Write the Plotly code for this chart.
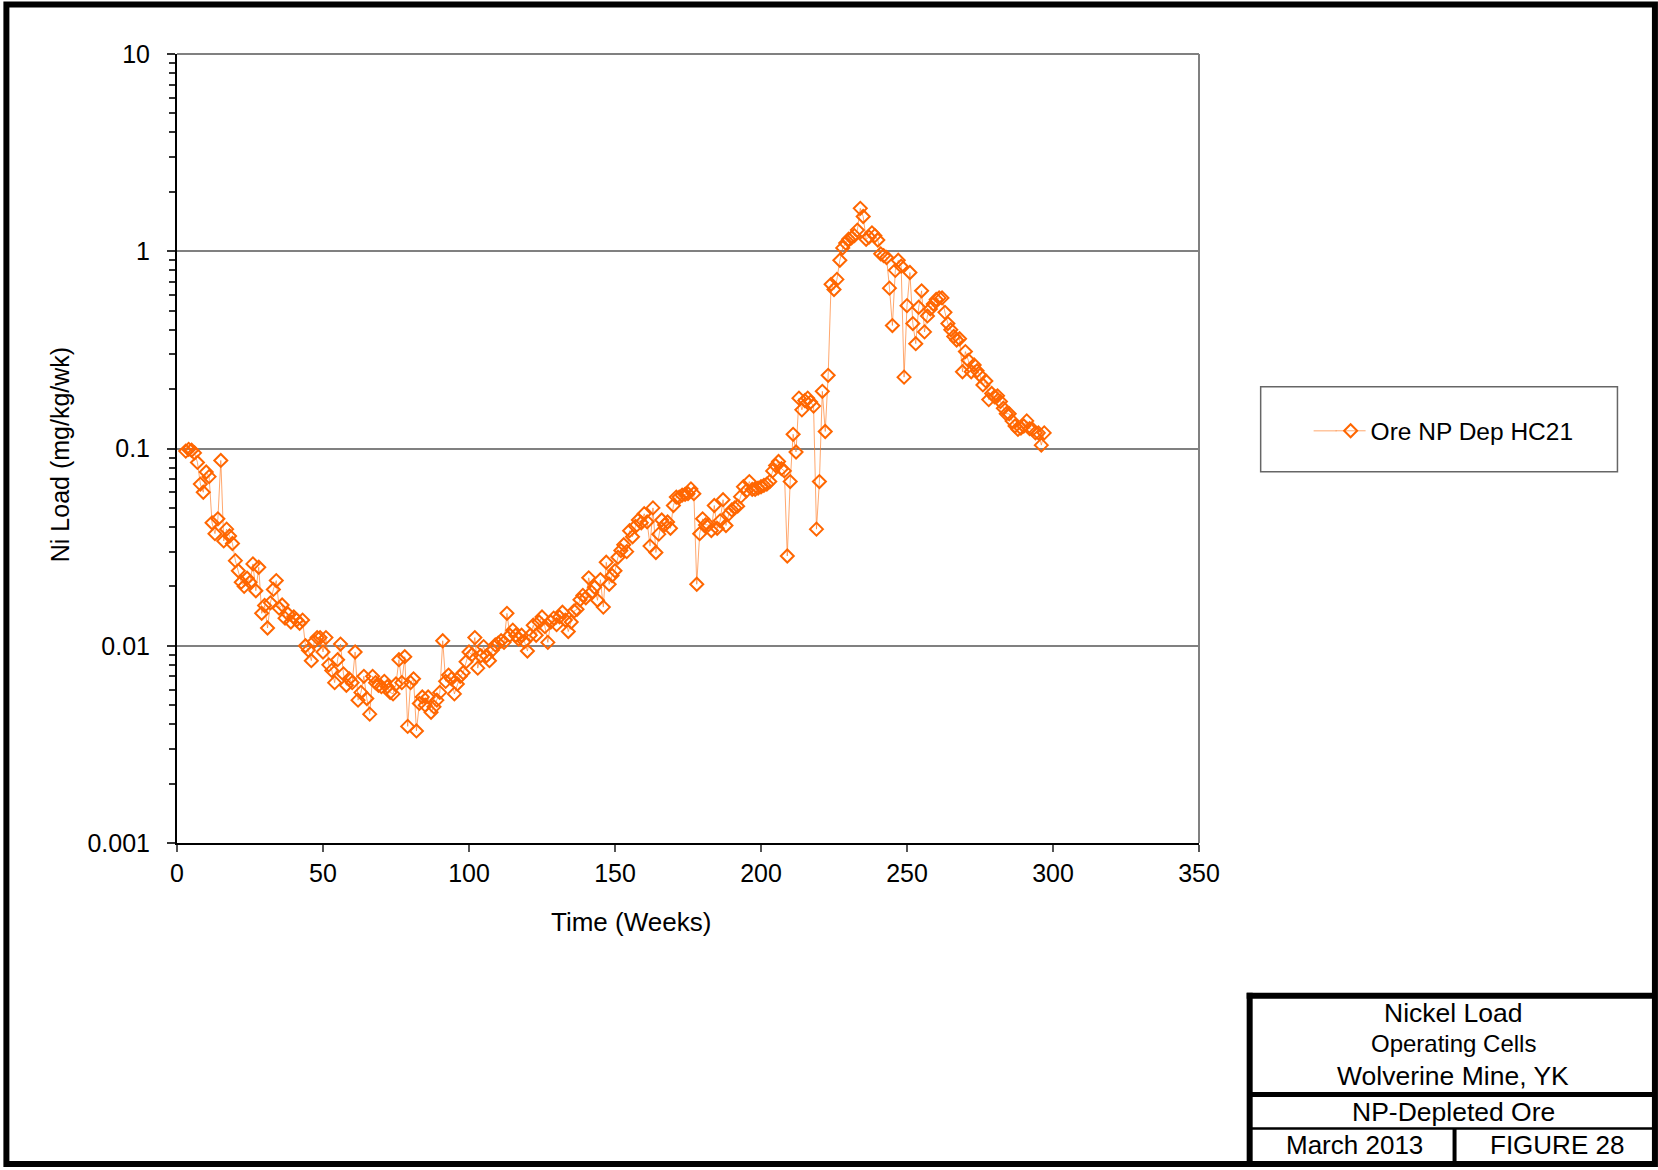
import plotly.graph_objects as go

# Weekly nickel load, NP-depleted ore humidity cell HC21 (mg/kg/wk), weeks 3..297
ni_load = [
    0.097, 0.099, 0.098, 0.095, 0.085, 0.066, 0.060, 0.076, 0.072, 0.042,
    0.037, 0.044, 0.087, 0.034, 0.039, 0.036, 0.033, 0.027, 0.024, 0.021,
    0.020, 0.022, 0.021, 0.026, 0.019, 0.025, 0.0146, 0.016, 0.0123, 0.0165,
    0.0193, 0.0214, 0.0155, 0.0161, 0.0138, 0.0145, 0.0132, 0.014, 0.0135, 0.013,
    0.0135, 0.010, 0.0095, 0.0084, 0.0105, 0.011, 0.011, 0.0093, 0.011, 0.008,
    0.0075, 0.0065, 0.0085, 0.0102, 0.0072, 0.0063, 0.0068, 0.0065, 0.0093, 0.0053,
    0.0058, 0.007, 0.0054, 0.0045, 0.007, 0.0065, 0.0063, 0.0062, 0.0066, 0.0062,
    0.0058, 0.0057, 0.0064, 0.0085, 0.0065, 0.0088, 0.0039, 0.0065, 0.0068, 0.0037,
    0.0051, 0.0055, 0.005, 0.0055, 0.0046, 0.0049, 0.0053, 0.0058, 0.0106, 0.0066,
    0.0071, 0.0068, 0.0057, 0.0064, 0.007, 0.0073, 0.0083, 0.0093, 0.009, 0.011,
    0.0077, 0.0089, 0.0099, 0.0089, 0.0084, 0.0095, 0.0101, 0.0103, 0.0106, 0.0104,
    0.0146, 0.0113, 0.012, 0.0113, 0.0108, 0.0113, 0.0105, 0.0094, 0.0113, 0.0127,
    0.0113, 0.0132, 0.014, 0.0125, 0.0104, 0.0132, 0.0138, 0.0128, 0.014, 0.0148,
    0.0135, 0.0118, 0.0132, 0.015, 0.0153, 0.0171, 0.018, 0.0175, 0.0221, 0.0187,
    0.0198, 0.017, 0.0216, 0.0157, 0.0265, 0.0205, 0.0227, 0.024, 0.0281, 0.0304,
    0.0325, 0.030, 0.0383, 0.0357, 0.0403, 0.0434, 0.042, 0.0467, 0.0425, 0.032,
    0.050, 0.0297, 0.0368, 0.0434, 0.041, 0.0424, 0.0394, 0.0514, 0.0567, 0.0567,
    0.058, 0.0585, 0.059, 0.0624, 0.059, 0.0205, 0.037, 0.044, 0.041, 0.041,
    0.0384, 0.0514, 0.0394, 0.043, 0.055, 0.0407, 0.0466, 0.0488, 0.050, 0.051,
    0.057, 0.064, 0.061, 0.068, 0.062, 0.062, 0.063, 0.064, 0.065, 0.066,
    0.068, 0.077, 0.082, 0.086, 0.079, 0.077, 0.0285, 0.068, 0.118, 0.096,
    0.18, 0.157, 0.175, 0.18, 0.172, 0.164, 0.039, 0.068, 0.195, 0.122,
    0.235, 0.68, 0.64, 0.72, 0.90, 1.04, 1.1, 1.15, 1.17, 1.2,
    1.28, 1.65, 1.5, 1.15, 1.18, 1.24, 1.2, 1.14, 0.97, 0.95,
    0.93, 0.65, 0.42, 0.8, 0.9, 0.84, 0.23, 0.53, 0.78, 0.43,
    0.34, 0.52, 0.63, 0.39, 0.47, 0.51, 0.54, 0.57, 0.58, 0.58,
    0.49, 0.43, 0.40, 0.37, 0.355, 0.36, 0.245, 0.31, 0.28, 0.245,
    0.265, 0.248, 0.235, 0.21, 0.22, 0.177, 0.19, 0.183, 0.185, 0.173,
    0.16, 0.15, 0.15, 0.138, 0.13, 0.125, 0.127, 0.13, 0.138, 0.126,
    0.125, 0.12, 0.12, 0.104, 0.12,
]
first_week = 3
weeks = list(range(first_week, first_week + len(ni_load)))

series_name = "Ore NP Dep HC21"
x_ticks = [0, 50, 100, 150, 200, 250, 300, 350]
y_tickvals = [0.001, 0.01, 0.1, 1, 10]
y_ticktext = ["0.001", "0.01", "0.1", "1", "10"]
x_title = "Time (Weeks)"
y_title = "Ni Load (mg/kg/wk)"
title_block = {
    "line1": "Nickel Load",
    "line2": "Operating Cells",
    "line3": "Wolverine Mine, YK",
    "line4": "NP-Depleted Ore",
    "date": "March 2013",
    "figure": "FIGURE 28",
}

# Page geometry (pixels)
W, H = 1658, 1170
PL, PR, PT, PB = 176.7, 1199.3, 54.0, 843.3
FONT = "Liberation Sans, Arial, Helvetica, sans-serif"
ORANGE = "#FF6600"
LINE_ORANGE = "rgba(255,120,30,0.65)"
GRID = "#808080"


def px(x):
    return (x - PL) / (PR - PL)


def py(y):
    return (PB - y) / (PB - PT)


fig = go.Figure()
fig.add_trace(go.Scatter(
    x=weeks, y=ni_load, name=series_name, mode="lines+markers",
    line=dict(color=LINE_ORANGE, width=1),
    marker=dict(symbol="diamond-open", size=10, color=ORANGE,
                line=dict(color=ORANGE, width=2)),
))

minor_vals = [m * 10 ** e for e in range(-3, 1) for m in range(2, 10)]

fig.update_xaxes(
    range=[0, 350], tickvals=x_ticks, ticks="outside", ticklen=7, tickwidth=1.5,
    tickcolor="#555555", showline=True, linecolor="black", linewidth=2,
    showgrid=False, zeroline=False,
    tickfont=dict(family=FONT, size=25, color="black"),
)
fig.update_yaxes(
    type="log", range=[-3, 1], tickvals=y_tickvals, ticktext=y_ticktext,
    ticks="outside", ticklen=8, tickwidth=1.5, tickcolor="#333333",
    ticklabelstandoff=12,
    showline=True, linecolor="black", linewidth=2,
    showgrid=True, gridcolor=GRID, gridwidth=1.5, zeroline=False,
    tickfont=dict(family=FONT, size=25, color="black"),
    minor=dict(tickvals=minor_vals, ticks="outside", ticklen=6,
               tickcolor="#333333", tickwidth=1.5, showgrid=False),
)

shapes = []
# gray top and right borders of the plot area
shapes.append(dict(type="line", xref="paper", yref="paper", x0=0, x1=1, y0=1, y1=1,
                   line=dict(color=GRID, width=2)))
shapes.append(dict(type="line", xref="paper", yref="paper", x0=1, x1=1, y0=0, y1=1,
                   line=dict(color=GRID, width=2)))
# legend box and the longer lead-in of its line sample
shapes.append(dict(type="rect", xref="paper", yref="paper",
                   x0=px(1261), x1=px(1618), y0=py(472), y1=py(387),
                   line=dict(color="#666666", width=1.5)))
shapes.append(dict(type="line", xref="paper", yref="paper",
                   x0=px(1314), x1=px(1337), y0=py(431), y1=py(431),
                   line=dict(color=LINE_ORANGE, width=1)))
# outer page frame
shapes.append(dict(type="rect", xref="paper", yref="paper",
                   x0=px(6), x1=px(1655.5), y0=py(1164.5), y1=py(4.5),
                   line=dict(color="black", width=6)))
# title block
shapes.append(dict(type="line", xref="paper", yref="paper",
                   x0=px(1250), x1=px(1250), y0=py(1165), y1=py(993),
                   line=dict(color="black", width=6)))
shapes.append(dict(type="line", xref="paper", yref="paper",
                   x0=px(1247), x1=px(1656), y0=py(996), y1=py(996),
                   line=dict(color="black", width=6)))
shapes.append(dict(type="line", xref="paper", yref="paper",
                   x0=px(1250), x1=px(1656), y0=py(1095), y1=py(1095),
                   line=dict(color="black", width=5)))
shapes.append(dict(type="line", xref="paper", yref="paper",
                   x0=px(1250), x1=px(1656), y0=py(1129), y1=py(1129),
                   line=dict(color="black", width=2.5)))
shapes.append(dict(type="line", xref="paper", yref="paper",
                   x0=px(1455), x1=px(1455), y0=py(1165), y1=py(1129),
                   line=dict(color="black", width=4)))

annotations = [
    dict(text=x_title, x=px(631), y=py(922), xref="paper", yref="paper",
         showarrow=False, xanchor="center", yanchor="middle",
         font=dict(family=FONT, size=26, color="black")),
    dict(text=y_title, x=px(59), y=py(455), xref="paper", yref="paper",
         showarrow=False, xanchor="center", yanchor="middle", textangle=-90,
         font=dict(family=FONT, size=25, color="black")),
]
tb = [
    (title_block["line1"], 1453.5, 1013, 26.5),
    (title_block["line2"], 1453.5, 1044, 24),
    (title_block["line3"], 1453.5, 1076, 26.5),
    (title_block["line4"], 1453.5, 1112.5, 26.5),
    (title_block["date"], 1354.5, 1145, 26),
    (title_block["figure"], 1557.5, 1145, 26),
]
for text, cx, cy, size in tb:
    annotations.append(dict(text=text, x=px(cx), y=py(cy), xref="paper", yref="paper",
                            showarrow=False, xanchor="center", yanchor="middle",
                            font=dict(family=FONT, size=size, color="black")))

fig.update_layout(
    width=W, height=H, autosize=False,
    margin=dict(l=PL, r=W - PR, t=PT, b=H - PB, pad=0),
    paper_bgcolor="white", plot_bgcolor="white",
    showlegend=True,
    legend=dict(x=px(1331), y=py(431), xanchor="left", yanchor="middle",
                bgcolor="rgba(0,0,0,0)", borderwidth=0,
                font=dict(family=FONT, size=24.5, color="black")),
    shapes=shapes, annotations=annotations,
)

fig.write_html("out.html")
